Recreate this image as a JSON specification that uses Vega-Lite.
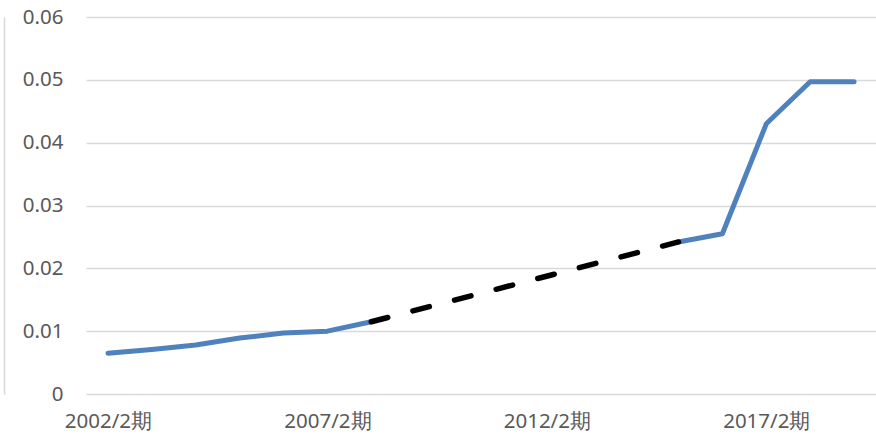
{
  "$schema": "https://vega.github.io/schema/vega-lite/v6.json",
  "width": 790,
  "height": 377,
  "autosize": {"type": "none"},
  "padding": {"left": 86, "top": 17, "right": 0, "bottom": 48},
  "background": "white",
  "config": {
    "view": {"stroke": null},
    "font": "Noto Sans",
    "axis": {"labelFont": "Noto Sans", "labelColor": "#595959", "labelFontSize": 20.5}
  },
  "data": {
    "values": [
      {"period": "2002/2期", "value": 0.0065, "seg": "a", "kind": "actual"},
      {"period": "2003/2期", "value": 0.0071, "seg": "a", "kind": "actual"},
      {"period": "2004/2期", "value": 0.0078, "seg": "a", "kind": "actual"},
      {"period": "2005/2期", "value": 0.0089, "seg": "a", "kind": "actual"},
      {"period": "2006/2期", "value": 0.0097, "seg": "a", "kind": "actual"},
      {"period": "2007/2期", "value": 0.0100, "seg": "a", "kind": "actual"},
      {"period": "2008/2期", "value": 0.0115, "seg": "a", "kind": "actual"},
      {"period": "2008/2期", "value": 0.0115, "seg": "gap", "kind": "missing"},
      {"period": "2015/2期", "value": 0.0242, "seg": "gap", "kind": "missing"},
      {"period": "2015/2期", "value": 0.0242, "seg": "b", "kind": "actual"},
      {"period": "2016/2期", "value": 0.0255, "seg": "b", "kind": "actual"},
      {"period": "2017/2期", "value": 0.0430, "seg": "b", "kind": "actual"},
      {"period": "2018/2期", "value": 0.0497, "seg": "b", "kind": "actual"},
      {"period": "2019/2期", "value": 0.0497, "seg": "b", "kind": "actual"}
    ]
  },
  "encoding": {
    "x": {
      "field": "period",
      "type": "ordinal",
      "sort": null,
      "scale": {
        "type": "point",
        "padding": 0.5,
        "domain": ["2002/2期","2003/2期","2004/2期","2005/2期","2006/2期","2007/2期","2008/2期","2009/2期","2010/2期","2011/2期","2012/2期","2013/2期","2014/2期","2015/2期","2016/2期","2017/2期","2018/2期","2019/2期"]
      },
      "axis": {
        "title": null,
        "values": ["2002/2期","2007/2期","2012/2期","2017/2期"],
        "labelAngle": 0,
        "ticks": false,
        "domain": false,
        "grid": false,
        "labelPadding": 17,
        "labelBaseline": "top"
      }
    }
  },
  "layer": [
    {
      "transform": [{"filter": "datum.kind === 'actual'"}],
      "mark": {"type": "line", "color": "#4f81bd", "strokeWidth": 5, "strokeCap": "round", "strokeJoin": "round"},
      "encoding": {
        "detail": {"field": "seg"},
        "y": {
          "field": "value",
          "type": "quantitative",
          "scale": {"domain": [0, 0.06], "nice": false},
          "axis": {
            "title": null,
            "orient": "left",
            "values": [0, 0.01, 0.02, 0.03, 0.04, 0.05, 0.06],
            "labelExpr": "datum.value === 0 ? '0' : format(datum.value, '.2f')",
            "ticks": false,
            "domain": false,
            "grid": true,
            "gridColor": "#d9d9d9",
            "gridWidth": 1.5,
            "labelPadding": 23
          }
        }
      }
    },
    {
      "transform": [{"filter": "datum.kind === 'missing'"}],
      "mark": {"type": "line", "color": "#000000", "strokeWidth": 5.5, "strokeCap": "round", "strokeDash": [17, 26]},
      "encoding": {
        "detail": {"field": "seg"},
        "y": {
          "field": "value",
          "type": "quantitative",
          "scale": {"domain": [0, 0.06], "nice": false},
          "axis": {
            "title": null,
            "orient": "left",
            "offset": 82,
            "labels": false,
            "ticks": false,
            "grid": false,
            "domain": true,
            "domainColor": "#d9d9d9",
            "domainWidth": 1.5
          }
        }
      }
    }
  ],
  "resolve": {"axis": {"y": "independent"}}
}
